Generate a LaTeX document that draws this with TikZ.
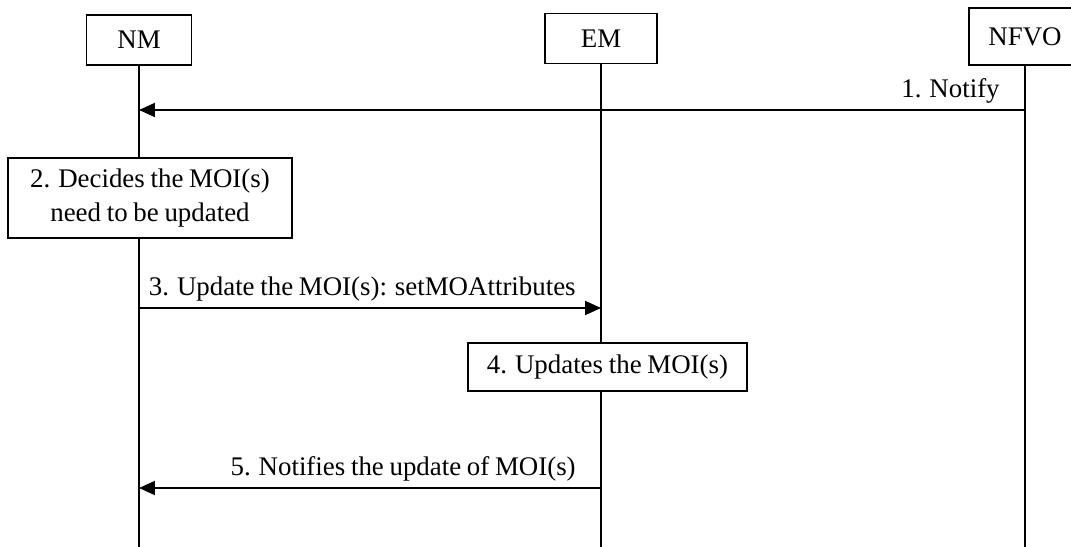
\documentclass[tikz,border=0pt]{standalone}
\usepackage{fontspec}
\setmainfont{Liberation Serif}[WordSpace=0.85]
\usetikzlibrary{arrows.meta,positioning,calc}
\tikzset{
	entity/.style={
		rectangle, draw, line width=0.9pt, fill=white,
		minimum width=2.1cm, minimum height=1cm, inner sep=0pt,
	},
	action/.style={
		rectangle, draw, line width=0.9pt, fill=white,
		align=center, inner sep=0pt,
	},
	lifeline/.style={
		draw, line width=1.1pt,
	},
	msg/.style={
		draw, line width=1.1pt, -{Triangle[length=0.32cm,width=0.28cm]},
	},
	msglabel/.style={
		anchor=south east, xshift=-0.37cm,
	}
}

\begin{document}
\begin{tikzpicture}[x=0.02cm, y=-0.02cm, font=\fontsize{15.3}{19}\selectfont]
	\useasboundingbox (0,0) rectangle (1071,547);
	% Define entity nodes
	\node [entity] (nm) at (139,40) {NM};
	\node [entity, minimum width=2.24cm] (em) at (601,38.5) {EM};
	\node [entity, minimum width=2.24cm, minimum height=1.14cm] (nfvo) at (1025,36.5) {NFVO};
	% Define coordinates for message levels
	\coordinate (s1) at (0,110);
	\coordinate (s3) at (0,308);
	\coordinate (s5) at (0,488);
	\coordinate (bottom) at (0,547);
	% Lifelines
	\draw[lifeline] (nm.south) -- (nm.south |- bottom);
	\draw[lifeline] (em.south) -- (em.south |- bottom);
	\draw[lifeline] (nfvo.south) -- (nfvo.south |- bottom);
	% Local steps
	\node [action, minimum width=5.68cm, minimum height=1.6cm] (decide) at (150,198) {2. Decides the MOI(s)\\need to be updated};
	\node [action, minimum width=5.58cm, minimum height=0.96cm] (updates) at (607.5,367) {4. Updates the MOI(s)};
	% Messages
	\draw[msg] (nfvo |- s1) -- (nm |- s1)
		node[msglabel, at start] {1. Notify};
	\draw[msg] (nm |- s3) -- (em |- s3)
		node[msglabel, at end] {3. Update the MOI(s): setMOAttributes};
	\draw[msg] (em |- s5) -- (nm |- s5)
		node[msglabel, at start] {5. Notifies the update of MOI(s)};
\end{tikzpicture}
\end{document}
